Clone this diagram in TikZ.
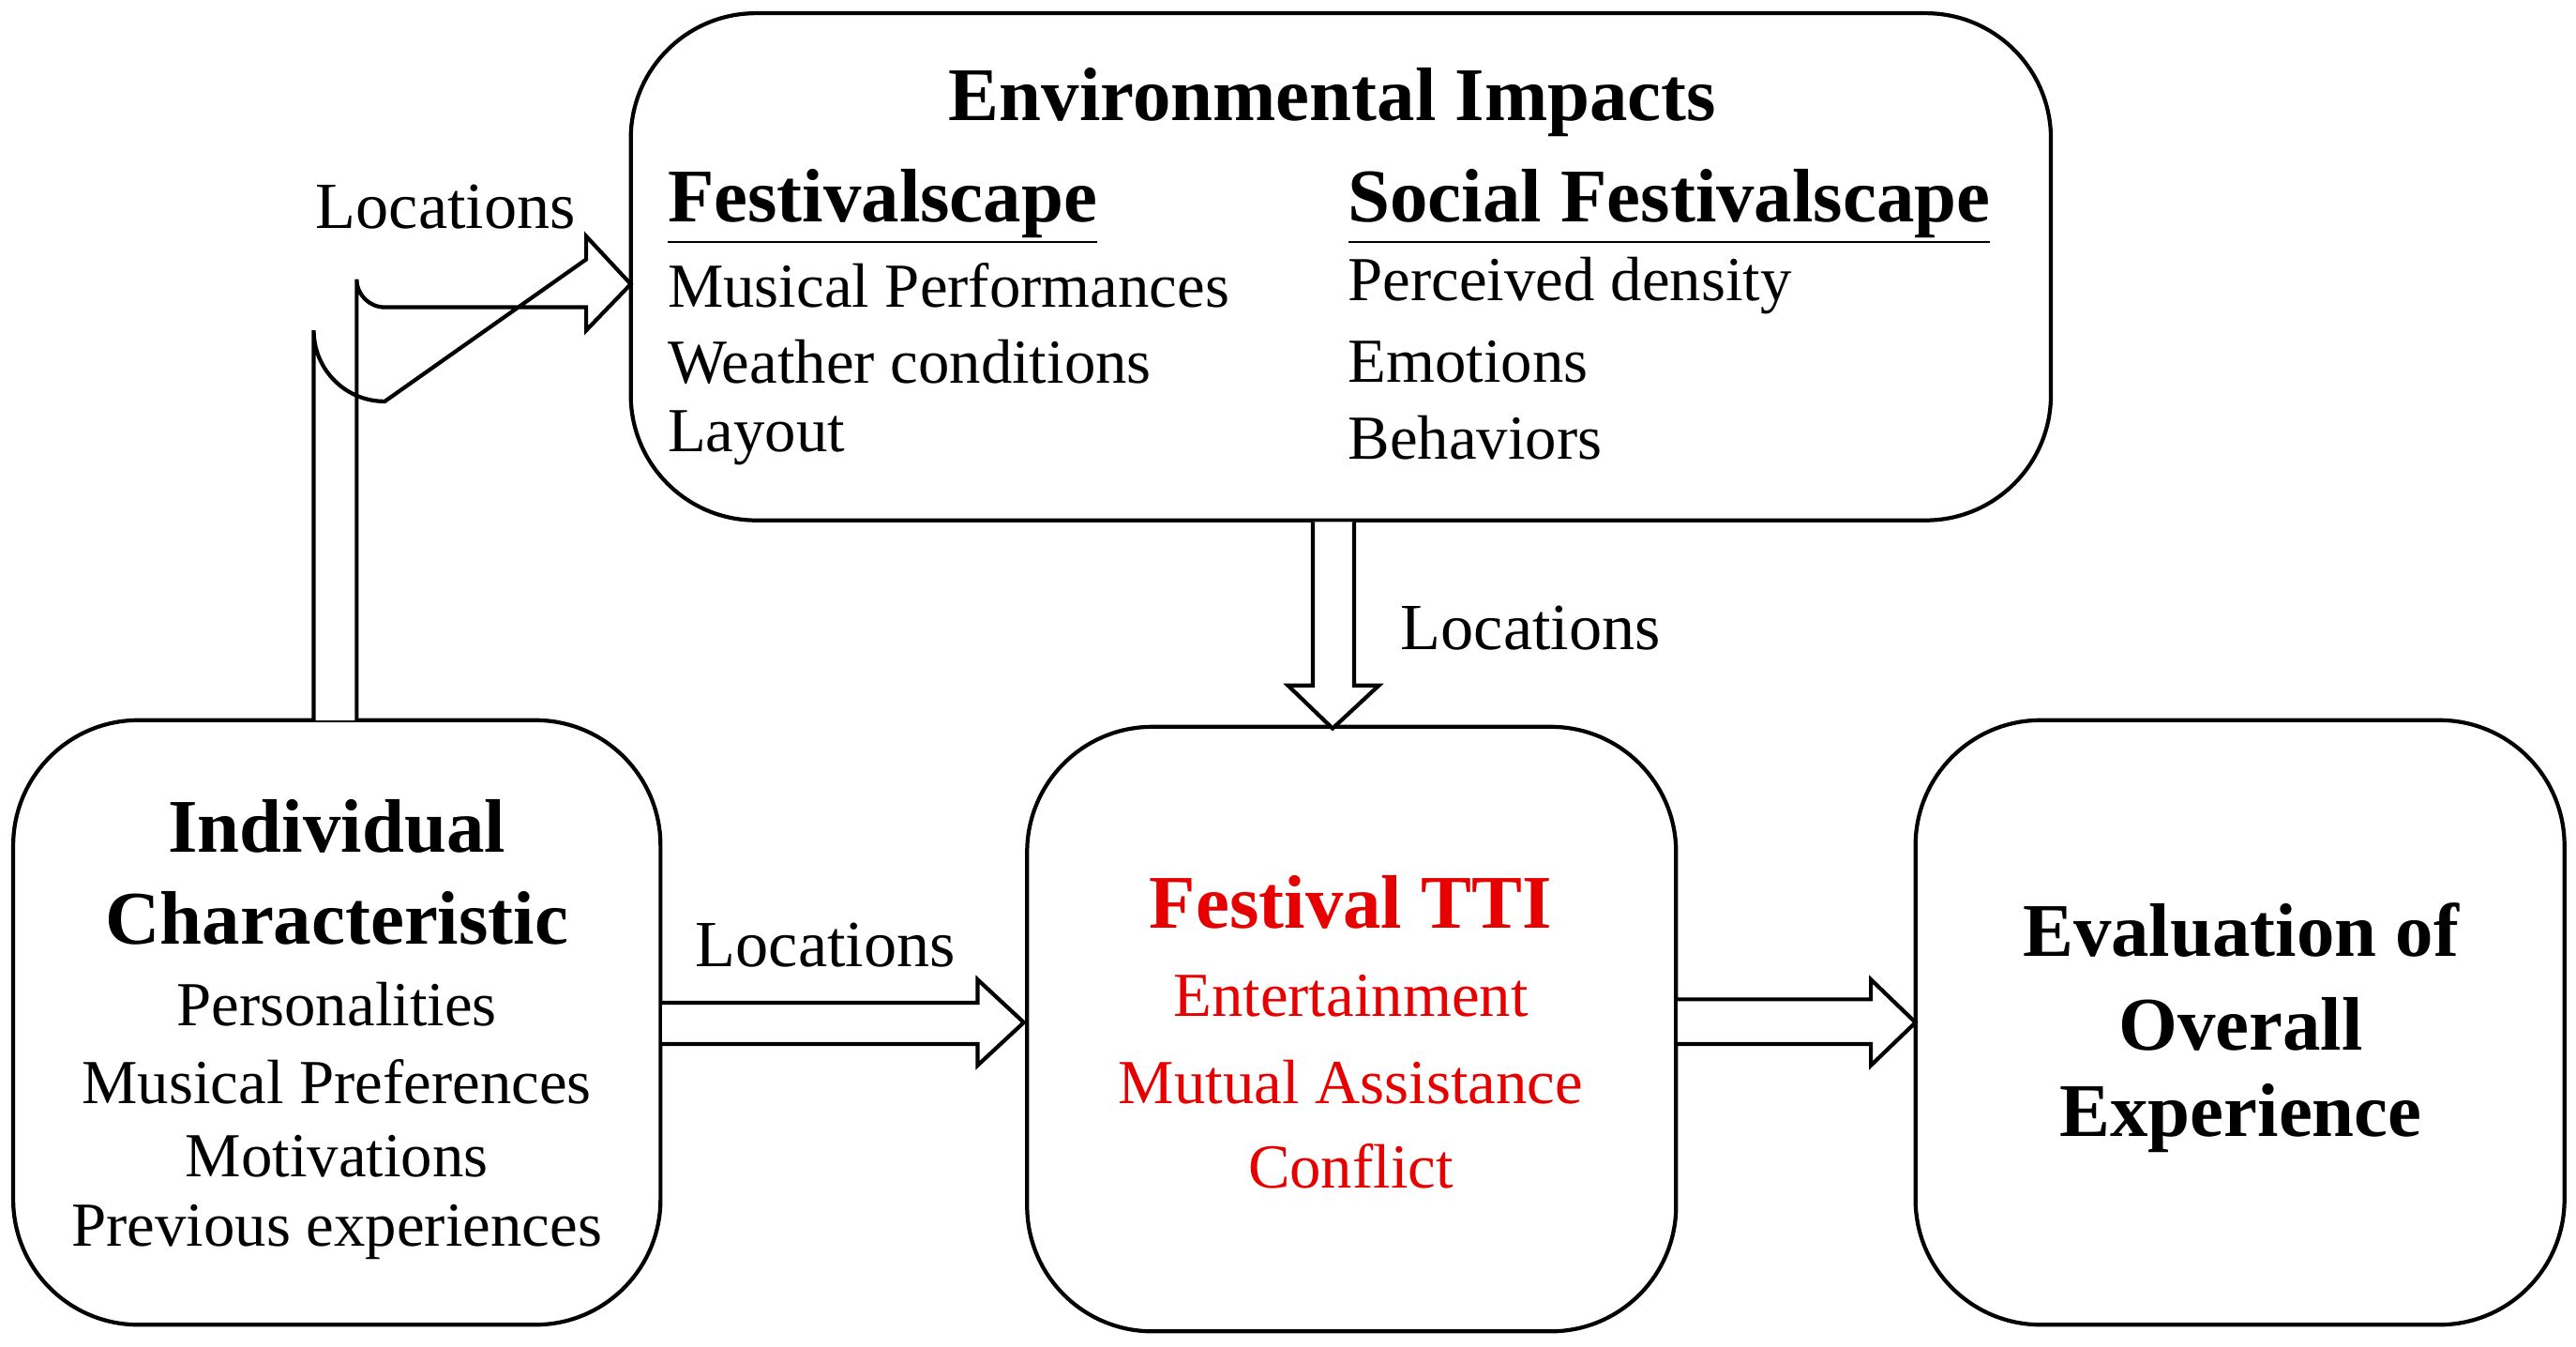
\documentclass[tikz,border=0pt]{standalone}
\usepackage{fontspec}
\setmainfont{Liberation Serif}
\begin{document}
\begin{tikzpicture}[x=0.01761cm,y=-0.01761cm,
  box/.style={draw,line width=1.2pt,rounded corners=38},
  hol/.style={draw,line width=1.2pt,fill=white,line join=miter},
  txt/.style={font=\fontsize{19}{22}\selectfont,inner sep=0pt},
  ttl/.style={font=\fontsize{23}{26}\selectfont\bfseries,inner sep=0pt},
  lbl/.style={font=\fontsize{20}{22}\selectfont,inner sep=0pt}]
\useasboundingbox (0,0) rectangle (1560,815);
\definecolor{fred}{RGB}{230,0,0}
\draw[box] (382,8) rectangle (1242,315);
\draw[box] (8,436) rectangle (400,802);
\draw[box] (622,440) rectangle (1015,806);
\draw[box] (1160,436) rectangle (1553,802);
\coordinate (envtop) at (382,172);
% bent arrow
\draw[hol] (190,436) -- (190,200) arc[start angle=180,end angle=90,radius=43] -- (355,157) -- (355,143) -- (382,172) -- (355,200) -- (355,186) -- (233,186) arc[start angle=90,end angle=180,radius=17] -- (216,436);
% down arrow
\draw[hol] (795,316) -- (795,415) -- (780,415) -- (807,441) -- (835,415) -- (820,415) -- (820,316);
% left-center
\draw[hol] (401,607) -- (592,607) -- (592,593) -- (620,619) -- (592,645) -- (592,632) -- (401,632);
% right
\draw[hol] (1016,605) -- (1133,605) -- (1133,593) -- (1160,619) -- (1133,645) -- (1133,632) -- (1016,632);
\node[lbl] (l1) at (270,125) {Locations};
\node[lbl] (l2) at (927,380) {Locations};
\node[lbl] (l3) at (500,572) {Locations};
\node[ttl] (et) at (807,62) {Environmental Impacts};
\node[ttl,anchor=west] (fs) at (404,125) {\underline{Festivalscape}};
\node[ttl,anchor=west] (sfs) at (816,125) {\underline{Social Festivalscape}};
\node[txt,anchor=west] (a1) at (404,173) {Musical Performances};
\node[txt,anchor=west] (a2) at (404,219) {Weather conditions};
\node[txt,anchor=west] (a3) at (404,265) {Layout};
\node[txt,anchor=west] (b1) at (816,173) {Perceived density};
\node[txt,anchor=west] (b2) at (816,219) {Emotions};
\node[txt,anchor=west] (b3) at (816,265) {Behaviors};
\node[ttl] (i1) at (204,500) {Individual};
\node[ttl] (i2) at (204,556) {Characteristic};
\node[txt] (i3) at (204,608) {Personalities};
\node[txt] (i4) at (204,655) {Musical Preferences};
\node[txt] (i5) at (204,700) {Motivations};
\node[txt] (i6) at (204,746) {Previous experiences};
\node[ttl,text=fred] (t1) at (818,546) {Festival TTI};
\node[txt,text=fred] (t2) at (818,603) {Entertainment};
\node[txt,text=fred] (t3) at (818,655) {Mutual Assistance};
\node[txt,text=fred] (t4) at (818,706) {Conflict};
\node[ttl] (e1) at (1357,563) {Evaluation of};
\node[ttl] (e2) at (1357,620) {Overall};
\node[ttl] (e3) at (1357,677) {Experience};
\end{tikzpicture}
\end{document}
